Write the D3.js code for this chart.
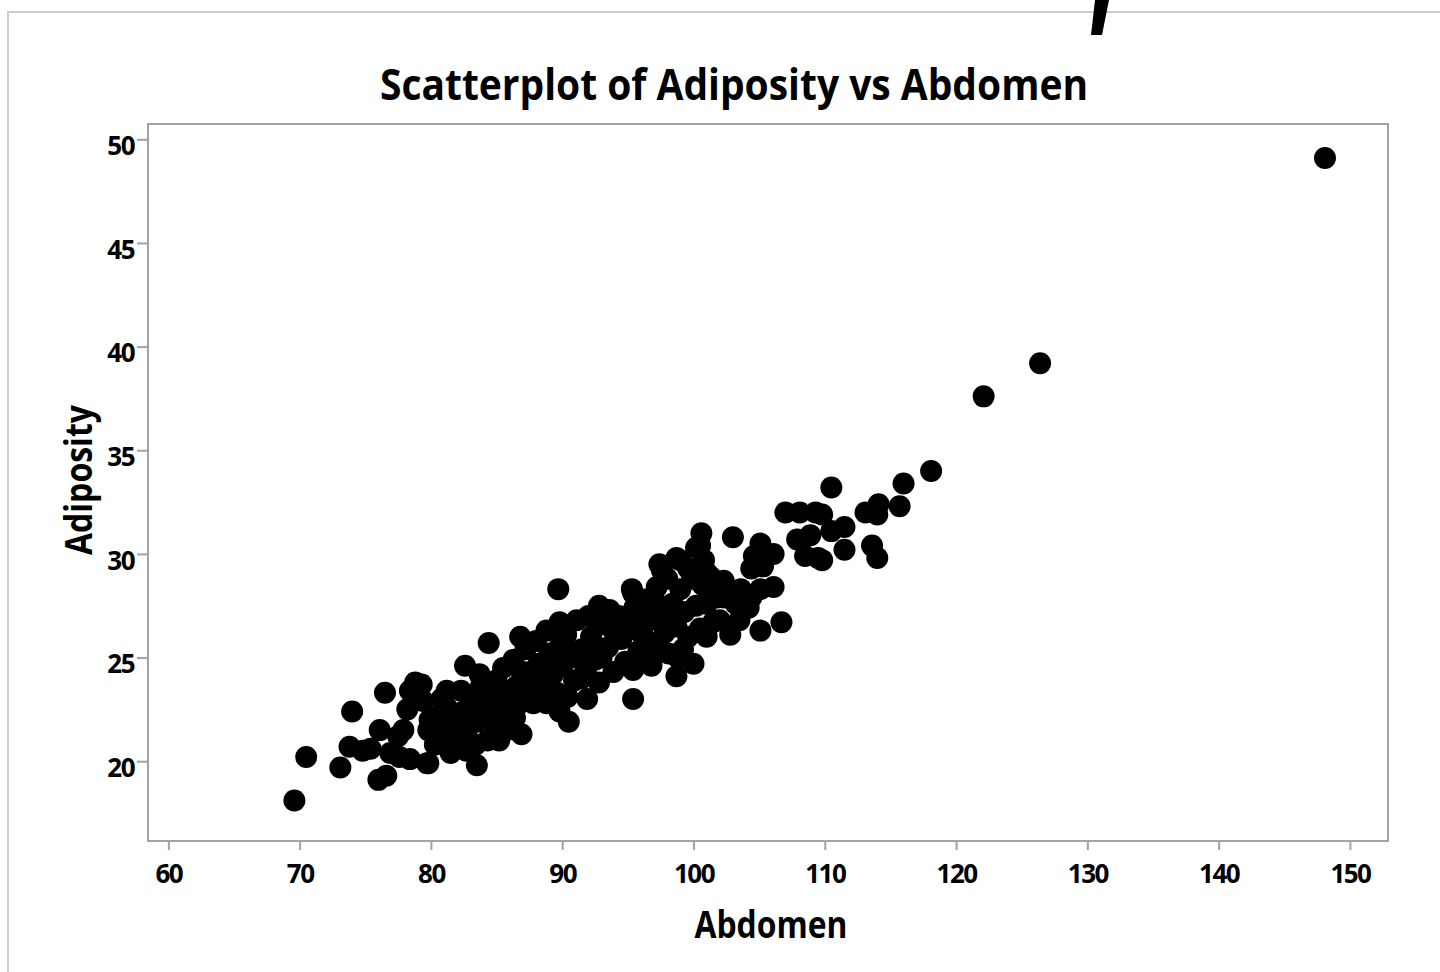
<!DOCTYPE html>
<html>
<head>
<meta charset="utf-8">
<script src="https://cdn.jsdelivr.net/npm/d3@7"></script>
<style>
  html, body { margin: 0; padding: 0; background: #fff; }
  svg { display: block; }
  text { font-family: "Open Sans", "DejaVu Sans", sans-serif; font-weight: 700; fill: #000; }
</style>
</head>
<body>
<svg id="chart" width="1440" height="972"></svg>
<script>
// Abdomen circumference (cm) and adiposity index for each subject
const abdomen = [
  148.1, 126.4, 122.1, 118.1, 116.0, 115.7, 114.1, 113.1, 114.0, 111.5,
  110.5, 110.5, 109.8, 111.5, 113.6, 114.0, 109.8, 107.0, 108.1, 109.3,
  107.9, 108.9, 108.5, 109.5, 103.0, 105.1, 104.6, 106.1, 104.4, 105.3,
  106.1, 105.1, 104.4, 102.3, 102.3, 103.2, 104.2, 102.8, 105.1, 106.7,
  100.6, 100.5, 100.8, 101.0, 99.0, 97.6, 95.3, 98.7, 95.4, 100.0,
  89.7, 92.8, 95.4, 84.4, 86.8, 82.6, 78.8, 90.5, 86.9, 83.5,
  81.5, 79.8, 86.4,
  69.6, 70.5, 73.1, 74.0, 73.8, 74.8, 75.4, 76.5, 76.1, 76.6,
  76.0, 76.9, 78.8, 78.2, 77.9, 78.4, 79.7, 78.4, 79.3, 79.4,
  79.9, 80.3, 79.8, 77.5, 77.6,
  80.5, 80.6, 80.8, 81.2, 81.5, 81.8, 81.2, 82.0, 82.3, 82.5,
  82.8, 82.4, 83.0, 82.7, 83.2, 83.5, 83.8, 83.4, 83.9, 83.7,
  84.2, 84.5, 84.8, 84.3, 85.0, 84.6, 85.2, 85.5, 85.5, 85.3,
  85.2, 86.3, 86.5, 86.0, 86.9, 87.2, 87.5, 87.8, 87.4, 88.0,
  88.2, 88.5, 88.8, 88.8, 89.0, 89.3, 89.6, 89.8, 89.8, 89.8,
  90.0, 90.4, 90.3, 90.6, 90.9, 91.1, 91.5, 91.8, 91.9, 92.2,
  92.5, 92.8, 93.2, 93.5, 93.9, 93.6, 94.5, 94.8, 94.3, 92.0,
  95.4, 95.5, 95.8, 96.0, 96.3, 96.6, 96.7, 97.2, 97.4, 97.5,
  97.8, 98.1, 98.4, 98.7, 98.7, 99.0, 99.3, 99.6, 99.9, 100.2,
  100.5, 101.3, 101.5, 101.0, 101.8, 100.2,
  95.0, 96.2, 97.2, 98.0, 99.2, 97.0, 95.8, 90.2, 91.0, 92.0,
  91.5, 87.0, 88.3, 89.2, 86.2, 102.0, 103.5, 101.0, 100.7, 103.6,
  85.8, 84.9, 86.6, 98.0, 99.6, 93.0, 94.0, 96.8, 98.8, 88.0
];
const adiposity = [
  49.1, 39.2, 37.6, 34.0, 33.4, 32.3, 32.4, 32.0, 31.9, 31.3,
  31.1, 33.2, 31.9, 30.2, 30.4, 29.8, 29.7, 32.0, 32.0, 32.0,
  30.7, 30.9, 29.9, 29.8, 30.8, 30.5, 29.9, 30.0, 29.3, 29.4,
  28.4, 28.3, 27.9, 28.7, 27.9, 27.6, 27.4, 26.1, 26.3, 26.7,
  31.0, 30.4, 29.7, 29.1, 29.7, 29.2, 28.3, 24.1, 23.0, 24.7,
  28.3, 27.5, 28.1, 25.7, 26.0, 24.6, 23.8, 21.9, 21.3, 19.8,
  20.4, 19.9, 22.1,
  18.1, 20.2, 19.7, 22.4, 20.7, 20.5, 20.6, 23.3, 21.5, 19.3,
  19.1, 20.4, 23.6, 22.5, 21.5, 20.1, 19.9, 23.4, 23.7, 22.9,
  22.0, 20.8, 21.5, 21.2, 20.2,
  21.3, 22.2, 23.0, 22.6, 21.5, 20.8, 23.4, 22.0, 23.4, 22.4,
  21.6, 20.9, 23.0, 20.5, 22.8, 21.9, 23.6, 20.8, 22.2, 24.2,
  22.7, 23.5, 21.8, 21.0, 23.9, 22.9, 23.0, 22.5, 24.5, 21.7,
  21.0, 24.9, 23.6, 22.4, 24.3, 25.4, 24.3, 22.8, 23.4, 25.8,
  24.7, 23.6, 22.8, 26.3, 25.2, 24.2, 23.3, 26.7, 25.5, 22.4,
  24.6, 23.1, 26.1, 25.0, 23.9, 26.8, 25.4, 24.4, 23.0, 26.0,
  24.9, 23.8, 26.6, 25.5, 24.3, 27.3, 25.9, 24.8, 27.0, 27.0,
  24.4, 27.4, 26.3, 25.3, 27.8, 26.8, 24.9, 28.4, 29.5, 27.2,
  26.2, 25.2, 27.6, 26.5, 29.8, 28.3, 27.2, 26.0, 28.8, 27.5,
  26.4, 28.9, 26.7, 27.6, 27.9, 30.3,
  26.7, 26.0, 25.6, 27.0, 25.4, 27.8, 25.3, 25.5, 25.0, 25.4,
  24.0, 23.5, 23.0, 22.8, 23.3, 26.8, 26.8, 26.0, 28.5, 28.3,
  21.5, 22.3, 22.7, 28.8, 29.3, 25.0, 26.2, 24.6, 25.0, 24.0
];

const xTickValues = [60, 70, 80, 90, 100, 110, 120, 130, 140, 150];
const yTickValues = [20, 25, 30, 35, 40, 45, 50];

const titleText = "Scatterplot of Adiposity vs Abdomen";
const xLabelText = "Abdomen";
const yLabelText = "Adiposity";

const points = abdomen.map((a, i) => ({ x: a, y: adiposity[i] }));

const svg = d3.select("#chart");
const frame = { left: 148, right: 1388, top: 124, bottom: 841 };
const frameColor = "#a3a3a3";

const x = d3.scaleLinear().domain([58.45, 152.9]).range([frame.left, frame.right]);
const y = d3.scaleLinear().domain([16.15, 50.74]).range([frame.bottom, frame.top]);

// Page border along the top and left edges
svg.append("path")
  .attr("d", "M8,972V12H1440")
  .attr("fill", "none")
  .attr("stroke", "#cdcdcd")
  .attr("stroke-width", 2);

// Slanted dark stroke poking in at the top edge
svg.append("path")
  .attr("d", "M1095,0L1109,0L1102,35L1091,35Z")
  .attr("fill", "#000");

// Plot frame
svg.append("rect")
  .attr("x", frame.left)
  .attr("y", frame.top)
  .attr("width", frame.right - frame.left)
  .attr("height", frame.bottom - frame.top)
  .attr("fill", "none")
  .attr("stroke", frameColor)
  .attr("stroke-width", 2);

// X axis
const gx = svg.append("g")
  .attr("transform", `translate(0,${frame.bottom})`)
  .call(d3.axisBottom(x).tickValues(xTickValues).tickSize(9).tickPadding(15).tickSizeOuter(0));
gx.attr("font-size", null).attr("font-family", null);
gx.select(".domain").remove();
gx.selectAll(".tick line").attr("stroke", frameColor).attr("stroke-width", 2);
gx.selectAll(".tick text")
  .attr("font-size", 26)
  .style("letter-spacing", "-1.5px")
  .attr("fill", "#000");

// Y axis
const gy = svg.append("g")
  .attr("transform", `translate(${frame.left},0)`)
  .call(d3.axisLeft(y).tickValues(yTickValues).tickSize(11).tickPadding(3).tickSizeOuter(0));
gy.attr("font-size", null).attr("font-family", null);
gy.select(".domain").remove();
gy.selectAll(".tick line").attr("stroke", frameColor).attr("stroke-width", 2);
gy.selectAll(".tick text")
  .attr("font-size", 26)
  .attr("y", 7)
  .style("letter-spacing", "-1.5px")
  .attr("fill", "#000");

// Scatter points
svg.append("g")
  .selectAll("circle")
  .data(points)
  .join("circle")
  .attr("cx", d => x(d.x))
  .attr("cy", d => y(d.y))
  .attr("r", 11)
  .attr("fill", "#000");

// Title
svg.append("text")
  .attr("x", 734)
  .attr("y", 100)
  .attr("text-anchor", "middle")
  .attr("font-size", 43)
  .attr("textLength", 708)
  .attr("lengthAdjust", "spacingAndGlyphs")
  .text(titleText);

// Axis titles
svg.append("text")
  .attr("x", 771)
  .attr("y", 938)
  .attr("text-anchor", "middle")
  .attr("font-size", 37)
  .attr("textLength", 153)
  .attr("lengthAdjust", "spacingAndGlyphs")
  .text(xLabelText);

svg.append("text")
  .attr("transform", "translate(92,480) rotate(-90)")
  .attr("text-anchor", "middle")
  .attr("font-size", 37)
  .attr("textLength", 150)
  .attr("lengthAdjust", "spacingAndGlyphs")
  .text(yLabelText);
</script>
</body>
</html>
